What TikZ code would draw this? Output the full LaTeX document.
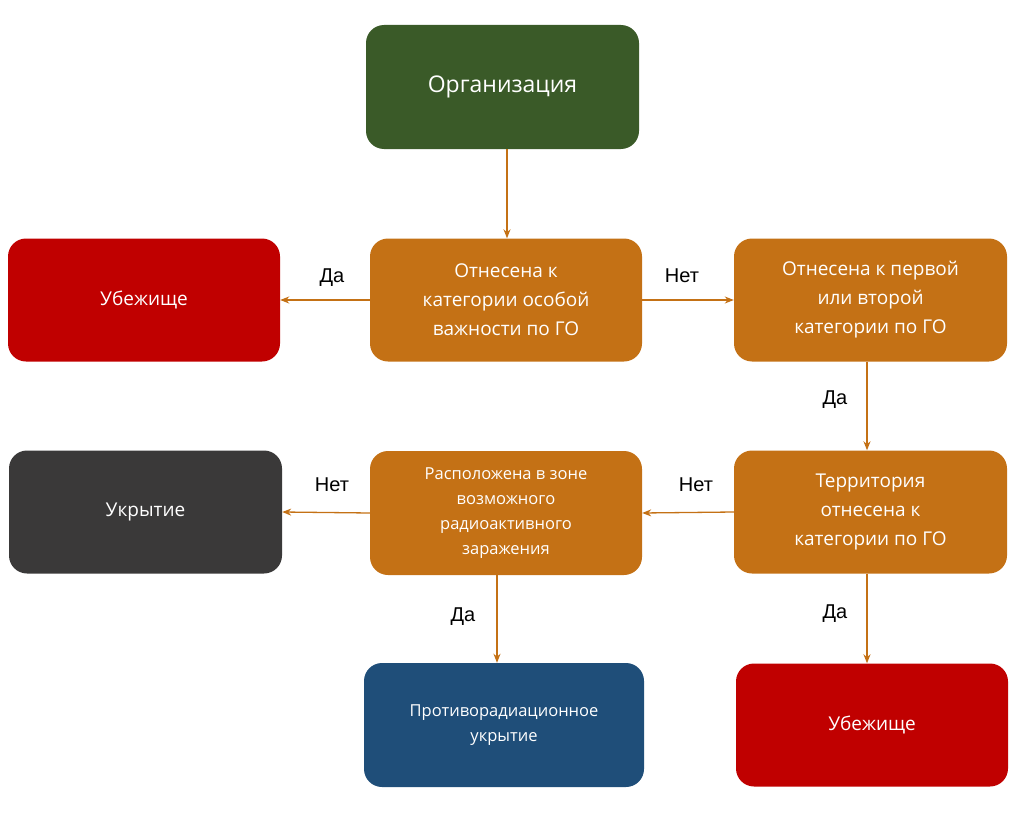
\documentclass[tikz,border=0pt]{standalone}
\usepackage{fontspec}
\setmainfont{Open Sans}
\newfontfamily\lab{Liberation Sans}
\usetikzlibrary{arrows.meta}
\definecolor{cgreen}{HTML}{3A5A28}
\definecolor{corange}{HTML}{C47115}
\definecolor{cred}{HTML}{C00000}
\definecolor{cgray}{HTML}{3A3939}
\definecolor{cblue}{HTML}{1F4E79}
\tikzset{
 box/.style={rounded corners=18pt,minimum width=272pt,minimum height=123pt,align=center,text=white,inner sep=4pt},
 arr/.style={draw=corange,line width=1.3pt,-{Stealth[length=9pt,width=7pt]}},
 lbl/.style={font=\lab\fontsize{20}{24}\selectfont,text=black},
 mid/.style={font=\fontsize{19}{29}\selectfont},
 sm/.style={font=\fontsize{16.5}{25}\selectfont}
}
\begin{document}
\begin{tikzpicture}[x=1pt,y=-1pt]
\useasboundingbox (0,0) rectangle (1018,816);
\node[box,fill=cgreen,minimum width=273pt,minimum height=124pt,font=\fontsize{23}{28}\selectfont] (org) at (502.5,87) {Организация};
\node[box,fill=corange,mid] (q1) at (506,300) {Отнесена к\\категории особой\\важности по ГО};
\node[box,fill=cred,mid] (ub1) at (144,300) {Убежище};
\node[box,fill=corange,mid,minimum width=273pt] (q2) at (870.5,300) {Отнесена к первой\\или второй\\категории по ГО};
\node[box,fill=corange,mid,minimum width=273pt] (q3) at (870.5,512) {Территория\\отнесена к\\категории по ГО};
\node[box,fill=corange,sm,minimum height=124pt] (q4) at (506,513) {Расположена в зоне\\возможного\\радиоактивного\\заражения};
\node[box,fill=cgray,mid,minimum width=273pt] (ukr) at (145.5,512) {Укрытие};
\node[box,fill=cblue,sm,minimum width=280pt,minimum height=124pt] (pru) at (504,725) {Противорадиационное\\укрытие};
\node[box,fill=cred,mid] (ub2) at (872,725) {Убежище};
\draw[arr] (org.south -| 507,0) -- (q1.north -| 507,0);
\draw[arr] (q1.west) -- (ub1.east);
\draw[arr] (q1.east) -- (q2.west);
\draw[arr] (q2.south -| 867,0) -- (q3.north -| 867,0);
\draw[arr] (q3.west) -- (q4.east);
\draw[arr] (q4.west) -- (ukr.east);
\draw[arr] (q4.south -| 497,0) -- (pru.north -| 497,0);
\draw[arr] (q3.south -| 867,0) -- (ub2.north -| 867,0);
\node[lbl] (l1) at (332,278) {Да};
\node[lbl] (l2) at (682,276) {Нет};
\node[lbl] (l3) at (835,400) {Да};
\node[lbl] (l4) at (332,485) {Нет};
\node[lbl] (l5) at (696,485) {Нет};
\node[lbl] (l6) at (463,617) {Да};
\node[lbl] (l7) at (835,614) {Да};
\end{tikzpicture}
\end{document}
